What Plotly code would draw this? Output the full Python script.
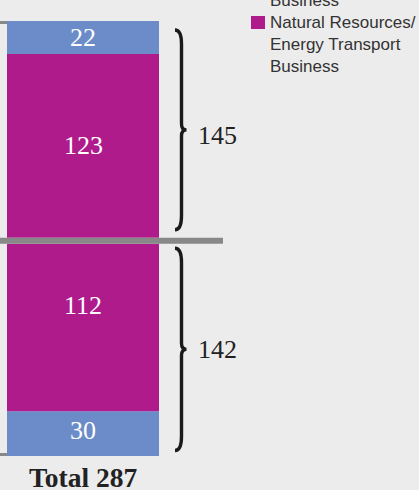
import plotly.graph_objects as go

# ---- data ----
lower_values = [30, 112]          # bottom group, bottom to top
upper_values = [123, 22]          # top group, bottom to top
lower_series = ["Other Business", "Natural Resources/Energy Transport Business"]
upper_series = ["Natural Resources/Energy Transport Business", "Other Business"]
group_totals = [142, 145]         # lower, upper
total_label = "Total 287"
legend_prev_tail = "Business"
legend_label = "Natural Resources/<br>Energy Transport<br>Business"

# ---- style ----
BLUE = "#6b8cc8"
MAGENTA = "#b01b8c"
BG = "#ececec"
GRAY = "#888888"
INK = "#222222"
SERIF = "Liberation Serif"
SANS = "Liberation Sans"
W, H = 419, 490
S = 1.4948            # px per unit
GAP = 4               # units between groups
Y0_PX = 456           # pixel row of value 0
BAR_X, BAR_W = 83, 152
LABEL_SHIFTS = [[3, 22], [0, 0]]      # px, per segment label
TOTAL_SHIFTS = [0, -5.5]              # px, per brace label
BRACE_INSETS = [(5.5, 4.5), (8, 9)]   # (bottom px, top px)

ymin = -(H - Y0_PX) / S
ymax = ymin + H / S

color_of = {"Other Business": BLUE,
            "Natural Resources/Energy Transport Business": MAGENTA}

fig = go.Figure()
annotations = []
shapes = []

groups = []
base = 0
for gi, (vals, names) in enumerate([(lower_values, lower_series), (upper_values, upper_series)]):
    gbase = base
    for si, (v, n) in enumerate(zip(vals, names)):
        fig.add_trace(go.Bar(x=[BAR_X], y=[v], base=[base], width=[BAR_W],
                             marker=dict(color=color_of[n], line=dict(width=0)),
                             name=n, showlegend=False, hoverinfo="skip"))
        annotations.append(dict(x=BAR_X, y=base + v / 2, xref="x", yref="y",
                                text=str(v), showarrow=False,
                                font=dict(family=SERIF, size=26, color="white"),
                                yshift=LABEL_SHIFTS[gi][si]))
        base += v
    groups.append((gbase, base))
    base += GAP

# separator line between groups
sep_y = groups[0][1] + GAP / 2
shapes.append(dict(type="line", xref="x", yref="y", x0=0, x1=223, y0=sep_y, y1=sep_y,
                   line=dict(color=GRAY, width=6), layer="above"))
# left stubs (top & bottom)
bar_left = BAR_X - BAR_W / 2
for yv in [groups[1][1] - 1.5 / S, 0 + 1.5 / S]:
    shapes.append(dict(type="line", xref="x", yref="y", x0=0, x1=bar_left, y0=yv, y1=yv,
                       line=dict(color=GRAY, width=3), layer="below"))

# braces
for (gb, gt), tot, (ib, it), tsh in zip(groups, group_totals, BRACE_INSETS, TOTAL_SHIFTS):
    yb = gb + ib / S
    yt = gt - it / S
    ym = (yb + yt) / 2
    c = 14 / S
    k = 6 / S
    x0, x1, xt = 175, 181.5, 186.5
    path = (f"M {x0},{yt} Q {x1},{yt} {x1},{yt - c} L {x1},{ym + k} "
            f"Q {x1},{ym} {xt},{ym} Q {x1},{ym} {x1},{ym - k} "
            f"L {x1},{yb + c} Q {x1},{yb} {x0},{yb}")
    shapes.append(dict(type="path", xref="x", yref="y", path=path,
                       line=dict(color="#1a1a1a", width=3.4)))
    annotations.append(dict(x=196, y=ym, xref="x", yref="y", text=str(tot),
                            showarrow=False, xanchor="left", yanchor="middle",
                            font=dict(family=SERIF, size=26, color=INK), yshift=tsh))

# total label
annotations.append(dict(x=BAR_X, y=1 - 477 / H, xref="x", yref="paper",
                        text=f"<b>{total_label}</b>", showarrow=False,
                        yanchor="middle",
                        font=dict(family=SERIF, size=27.5, color=INK)))

# legend (manual)
shapes.append(dict(type="rect", xref="x", yref="paper", x0=251, x1=265,
                   y0=1 - 29 / H, y1=1 - 16 / H, fillcolor=MAGENTA, line=dict(width=0)))
annotations.append(dict(x=268, y=1 - 11 / H, xref="x", yref="paper", text=legend_label,
                        showarrow=False, xanchor="left", yanchor="top", align="left",
                        font=dict(family=SANS, size=17, color="#333333")))
annotations.append(dict(x=268, y=1 + 11 / H, xref="x", yref="paper", text=legend_prev_tail,
                        showarrow=False, xanchor="left", yanchor="top", align="left",
                        font=dict(family=SANS, size=17, color="#333333")))

fig.update_layout(
    width=W, height=H, margin=dict(l=0, r=0, t=0, b=0),
    paper_bgcolor=BG, plot_bgcolor=BG, barmode="overlay",
    xaxis=dict(range=[0, W], visible=False, fixedrange=True),
    yaxis=dict(range=[ymin, ymax], visible=False, fixedrange=True),
    shapes=shapes, annotations=annotations, showlegend=False,
)
fig.write_html("out.html")
